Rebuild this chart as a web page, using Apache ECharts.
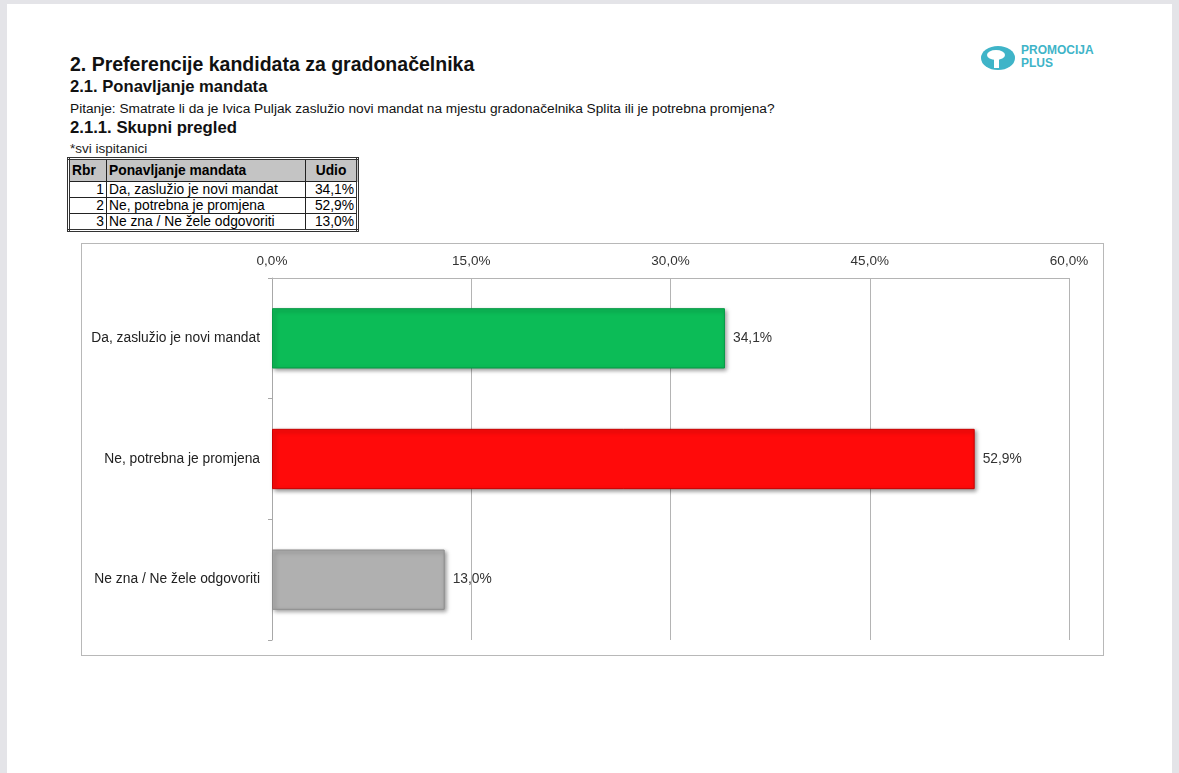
<!DOCTYPE html>
<html>
<head>
<meta charset="utf-8">
<script src="https://cdn.jsdelivr.net/npm/echarts@6/dist/echarts.min.js"></script>
<style>
  html, body { margin:0; padding:0; width:1179px; height:773px; overflow:hidden; background:#e4e4e8; font-family:"Liberation Sans", Arial, sans-serif; }
  #page { position:absolute; left:7px; top:4px; width:1165px; height:780px; background:#fff; }
  .t { position:absolute; left:70px; color:#111; white-space:nowrap; }
  #h1 { top:53px; font-size:19.5px; font-weight:bold; }
  #h2 { top:77px; font-size:16.6px; font-weight:bold; }
  #q { top:101px; font-size:13.7px; }
  #h3 { top:118px; font-size:16.7px; font-weight:bold; }
  #note { top:141px; font-size:13.5px; color:#222; }
  #tbl { position:absolute; left:67px; top:157px; border:3px double #333; border-collapse:collapse; font-size:13.8px; }
  #tbl td, #tbl th { border:1.5px solid #222; padding:0 2px; line-height:15px; height:15px; }
  #tbl th { background:#c4c4c4; font-weight:bold; height:21px; }
  #logo { position:absolute; left:980px; top:44px; }
  #logotxt { position:absolute; left:1021px; top:44px; color:#3fb4c8; font-size:12px; font-weight:bold; line-height:13px; }
  #chart { position:absolute; left:81px; top:243px; width:1021px; height:411px; border:1px solid #b8b8b8; }
</style>
</head>
<body>
<div id="page"></div>
<div class="t" id="h1">2. Preferencije kandidata za gradonačelnika</div>
<div class="t" id="h2">2.1. Ponavljanje mandata</div>
<div class="t" id="q">Pitanje: Smatrate li da je Ivica Puljak zaslužio novi mandat na mjestu gradonačelnika Splita ili je potrebna promjena?</div>
<div class="t" id="h3">2.1.1. Skupni pregled</div>
<div class="t" id="note">*svi ispitanici</div>
<table id="tbl"></table>
<svg id="logo" width="36" height="28" viewBox="0 0 36 28">
  <ellipse cx="18" cy="14" rx="17" ry="12" fill="#3fb4c8"/>
  <ellipse cx="16" cy="11" rx="9" ry="5" fill="#fff"/>
  <rect x="14" y="10" width="5" height="14" fill="#fff"/>
</svg>
<div id="logotxt">PROMOCIJA<br>PLUS</div>
<div id="chart"></div>
<script>
const categories = ["Da, zaslužio je novi mandat", "Ne, potrebna je promjena", "Ne zna / Ne žele odgovoriti"];
const shares = [34.1, 52.9, 13.0];
const rowNumbers = [1, 2, 3];
const tableHeader = ["Rbr", "Ponavljanje mandata", "Udio"];
const barColors = ["#0cbc57", "#ff0a0a", "#b0b0b0"];
const barBorders = ["#079a45", "#c80000", "#8e8e8e"];
const tickValues = [0, 15, 30, 45, 60];

const fmt = v => v.toFixed(1).replace(".", ",") + "%";

// table
const tbl = document.getElementById("tbl");
let html = "<tr><th style='width:32px;text-align:left'>" + tableHeader[0] + "</th><th style='width:194px;text-align:left'>" + tableHeader[1] + "</th><th style='width:46px'>" + tableHeader[2] + "</th></tr>";
categories.forEach((c, i) => {
  html += "<tr><td style='text-align:right'>" + rowNumbers[i] + "</td><td>" + c + "</td><td style='text-align:right'>" + fmt(shares[i]) + "</td></tr>";
});
tbl.innerHTML = html;

const chart = echarts.init(document.getElementById("chart"));
chart.setOption({
  animation: false,
  grid: { left: 190, right: 34, top: 34, bottom: 15 },
  xAxis: {
    type: "value", position: "top", min: tickValues[0], max: tickValues[tickValues.length - 1], interval: 15,
    axisLine: { show: true, lineStyle: { color: "#b4b4b4", width: 1 } },
    axisTick: { show: false },
    splitLine: { show: true, lineStyle: { color: "#b4b4b4", width: 1 } },
    axisLabel: { formatter: v => fmt(v), color: "#333", fontSize: 13.5, margin: 10, fontFamily: "Liberation Sans" }
  },
  yAxis: {
    type: "category", inverse: true, data: categories,
    axisLine: { show: true, lineStyle: { color: "#a8a8a8", width: 1 } },
    axisTick: { show: true, length: 4, lineStyle: { color: "#a8a8a8" } },
    axisLabel: { color: "#222", fontSize: 13.8, margin: 12, fontFamily: "Liberation Sans" }
  },
  series: [{
    type: "bar",
    barWidth: "50%",
    data: shares.map((v, i) => ({
      value: v,
      itemStyle: {
        color: barColors[i], borderColor: barBorders[i], borderWidth: 1,
        shadowBlur: 4, shadowColor: "rgba(0,0,0,0.4)", shadowOffsetX: 2, shadowOffsetY: 2
      }
    })),
    label: { show: true, position: "right", distance: 8, formatter: p => fmt(p.value), color: "#333", fontSize: 13.8, fontFamily: "Liberation Sans" }
  }]
});
</script>
</body>
</html>
